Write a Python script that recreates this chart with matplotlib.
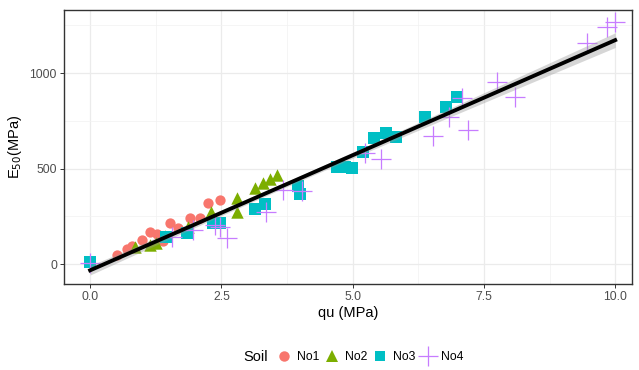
import numpy as np
import matplotlib.pyplot as plt
from matplotlib.lines import Line2D

plt.rcParams['font.family'] = ['Liberation Sans', 'DejaVu Sans']

# Unconfined compressive strength (qu) and secant modulus E50 per soil
no1_qu = [0.51, 0.70, 0.80, 0.99, 1.14, 1.28, 1.39, 1.52, 1.68, 1.90, 2.10, 2.25, 2.48]
no1_e50 = [47, 79, 94, 126, 168, 157, 120, 215, 188, 241, 241, 319, 335]

no2_qu = [0.86, 1.14, 1.26, 1.43, 1.87, 2.30, 2.80, 2.80, 3.14, 3.30, 3.43, 3.56]
no2_e50 = [89, 99, 110, 147, 194, 272, 346, 272, 398, 424, 445, 466]

no3_qu = [0.0, 1.45, 1.85, 2.34, 2.48, 3.14, 3.33, 3.96, 4.00, 4.70, 4.86, 4.99,
          5.20, 5.41, 5.64, 5.83, 6.38, 6.78, 6.99]
no3_e50 = [10, 141, 162, 215, 215, 288, 314, 408, 366, 508, 508, 503,
           586, 660, 686, 665, 770, 822, 874]

no4_qu = [0.0, 1.56, 1.96, 2.38, 2.48, 2.61, 3.35, 3.68, 4.04, 5.24, 5.54, 6.53,
          6.84, 7.09, 7.20, 7.75, 8.10, 9.47, 9.85, 10.0]
no4_e50 = [5, 141, 178, 204, 194, 136, 272, 387, 382, 581, 550, 670,
           770, 869, 702, 953, 874, 1157, 1241, 1267]

soils = ['No1', 'No2', 'No3', 'No4']
colors = ['#F8766D', '#7CAE00', '#00BFC4', '#C77CFF']

fig = plt.figure(figsize=(6.39, 3.70), dpi=100)
ax = fig.add_axes([0.100, 0.232, 0.889, 0.741])

# points
ax.scatter(no1_qu, no1_e50, s=55, marker='o', color=colors[0], linewidths=0, zorder=3)
ax.scatter(no2_qu, no2_e50, s=80, marker='^', color=colors[1], linewidths=0, zorder=3)
ax.scatter(no3_qu, no3_e50, s=85, marker='s', color=colors[2], linewidths=0, zorder=3)
ax.scatter(no4_qu, no4_e50, s=200, marker='+', color=colors[3], linewidths=0.9, zorder=3)

# linear fit over all soils with 95% confidence band
x_all = np.array(no1_qu + no2_qu + no3_qu + no4_qu)
y_all = np.array(no1_e50 + no2_e50 + no3_e50 + no4_e50)
n = len(x_all)
slope, intercept = np.polyfit(x_all, y_all, 1)
resid = y_all - (slope * x_all + intercept)
s_err = np.sqrt(np.sum(resid ** 2) / (n - 2))
xf = np.linspace(x_all.min(), x_all.max(), 80)
yf = slope * xf + intercept
se = s_err * np.sqrt(1 / n + (xf - x_all.mean()) ** 2 / np.sum((x_all - x_all.mean()) ** 2))
t_crit = 1.999
ax.fill_between(xf, yf - t_crit * se, yf + t_crit * se, color='#999999', alpha=0.4,
                linewidth=0, zorder=4)
ax.plot(xf, yf, color='black', linewidth=2.8, zorder=5)

ax.set_xlim(-0.5, 10.32)
ax.set_ylim(-105, 1330)
ax.set_xticks([0, 2.5, 5, 7.5, 10])
ax.set_xticklabels(['0.0', '2.5', '5.0', '7.5', '10.0'])
ax.set_yticks([0, 500, 1000])
ax.set_xticks([1.25, 3.75, 6.25, 8.75], minor=True)
ax.set_yticks([250, 750, 1250], minor=True)
ax.grid(which='major', color='#EBEBEB', linewidth=0.9)
ax.grid(which='minor', color='#F2F2F2', linewidth=0.5)
ax.set_axisbelow(True)
ax.tick_params(which='major', length=3, width=0.7, color='#333333',
               labelsize=8.8, labelcolor='#4D4D4D', pad=2)
ax.tick_params(which='minor', length=0)
for sp in ax.spines.values():
    sp.set_color('#333333')
    sp.set_linewidth(1.0)

ax.set_xlabel('qu (MPa)', fontsize=10.5, labelpad=2)
ax.set_ylabel(r'E$_{50}$(MPa)', fontsize=10.5, labelpad=4)

# legend along the bottom
handles = [
    Line2D([], [], marker='o', linestyle='none', markersize=7.5, color=colors[0], markeredgewidth=0),
    Line2D([], [], marker='^', linestyle='none', markersize=9, color=colors[1], markeredgewidth=0),
    Line2D([], [], marker='s', linestyle='none', markersize=7.5, color=colors[2], markeredgewidth=0),
    Line2D([], [], marker='+', linestyle='none', markersize=14, color=colors[3], markeredgewidth=0.9),
]
fig.text(0.381, 0.035, 'Soil', fontsize=10.5, ha='left', va='center')
fig.legend(handles, soils, loc='center left', bbox_to_anchor=(0.420, 0.035), ncol=4,
           frameon=False, fontsize=8.8, handlelength=1.5, handletextpad=0.35,
           columnspacing=0.25, borderpad=0)

fig.savefig('out.png', dpi=100)
